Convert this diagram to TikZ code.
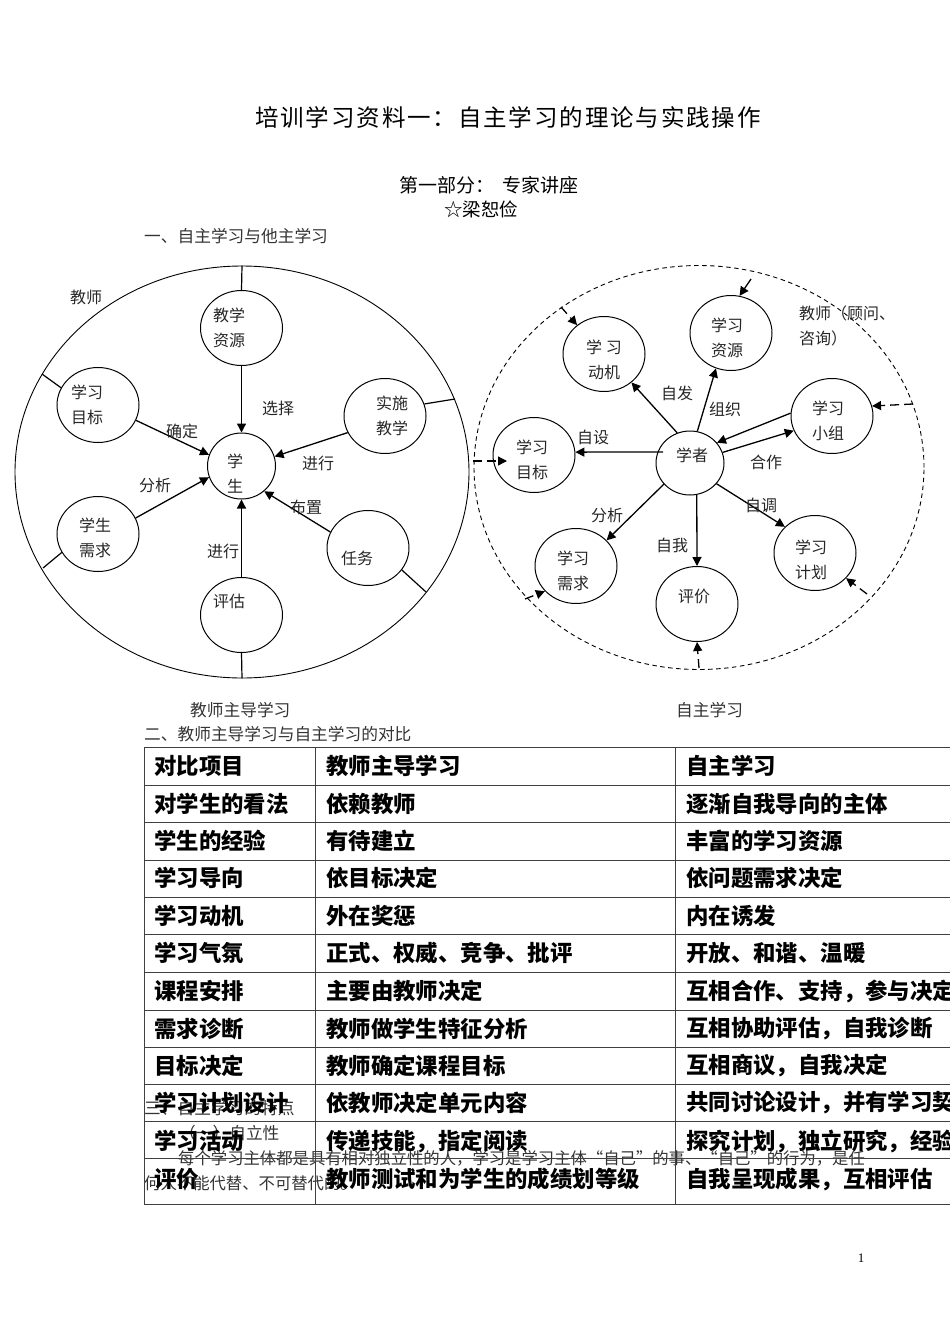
\documentclass[tikz,border=0pt]{standalone}
\usepackage{fontspec}
\setmainfont{Noto Sans CJK SC}
\newfontfamily\titlefont[LetterSpace=8]{Noto Sans CJK SC}
\newfontfamily\numfont{Liberation Serif}
\usetikzlibrary{arrows.meta,shapes.geometric}
\tikzset{
  bub/.style={draw,ellipse,line width=1pt,minimum width=82pt,minimum height=75pt,inner sep=0pt},
  txt/.style={inner sep=0pt,align=center,text=black!85,font=\fontsize{16}{25}\selectfont},
  small/.style={inner sep=0pt,anchor=west,text=black!80,font=\fontsize{16.7}{20}\selectfont},
  para/.style={small,font=\fontsize{16.35}{20}\selectfont},
  head/.style={inner sep=0pt,anchor=west,font=\fontsize{22.4}{26}\selectfont\bfseries},
  arr/.style={line width=1.3pt,-{Triangle[length=9pt,width=9pt]}},
  dasharr/.style={arr,dash pattern=on 9pt off 5pt},
  spoke/.style={line width=1.2pt},
  grid/.style={line width=0.9pt,black!75}
}
\begin{document}
\begin{tikzpicture}[x=1pt,y=-1pt]
  \useasboundingbox (0,0) rectangle (950,1344);
  \clip (0,0) rectangle (950,1344);

  % headings
  \node[inner sep=0pt,font=\titlefont\fontsize{23.5}{28}\selectfont] (title) at (508,117) {培训学习资料一：自主学习的理论与实践操作};
  \node[inner sep=0pt,font=\fontsize{19}{22}\selectfont] (part) at (489,185) {第一部分：\ \ 专家讲座};
  \node[inner sep=0pt,font=\fontsize{18.5}{22}\selectfont] (name) at (481,209) {☆梁恕俭};
  \node[small] (sec1) at (144,236) {一、自主学习与他主学习};
  \node[small] (capa) at (190,710) {教师主导学习};
  \node[small] (capb) at (676,710) {自主学习};
  \node[small] (sec2) at (144,734) {二、教师主导学习与自主学习的对比};

  % left diagram
  \node[draw,ellipse,line width=0.9pt,minimum width=454pt,minimum height=412pt,inner sep=0pt] (outerl) at (242,472) {};
  \node[bub] (ziyuan) at (241.5,328) {};
  \node[bub] (mubiao) at (98,405) {};
  \node[bub] (shishi) at (385,416) {};
  \node[bub] (xuqiu) at (98,534) {};
  \node[bub] (renwu) at (368,548) {};
  \node[bub] (pinggu) at (241.5,615) {};
  \node[bub,minimum width=68pt,minimum height=66pt] (xs) at (241.5,466) {};
  \coordinate (tmubiao) at (42,374);
  \coordinate (tshishi) at (455,399);
  \coordinate (txuqiu) at (43,568);
  \coordinate (trenwu) at (426,592);
  \draw[spoke] (outerl.north) -- (ziyuan.north);
  \draw[spoke] (outerl.south) -- (pinggu.south);
  \draw[spoke] (tmubiao) -- (mubiao.155);
  \draw[spoke] (tshishi) -- (shishi.17);
  \draw[spoke] (txuqiu) -- (xuqiu.207);
  \draw[spoke] (trenwu) -- (renwu.-33);
  \draw[arr] (ziyuan.south) -- (xs.north);
  \draw[arr] (mubiao.-22) -- (xs.161);
  \draw[arr] (shishi.204) -- (xs.16);
  \draw[arr] (xuqiu.23) -- (xs.199);
  \draw[arr] (renwu.157) -- (xs.-48);
  \draw[arr] (pinggu.north) -- (xs.south);
  \node[txt] (tj) at (86,297) {教师};
  \node[txt] (t1) at (229,328) {教学\\资源};
  \node[txt] (t2) at (87,405) {学习\\目标};
  \node[txt] (t3) at (392,416) {实施\\教学};
  \node[txt] (t4) at (95,538) {学生\\需求};
  \node[txt] (t5) at (235,474) {学\\生};
  \node[txt] (t6) at (357,558) {任务};
  \node[txt] (t7) at (229,601) {评估};
  \node[txt] (l1) at (278,408) {选择};
  \node[txt] (l2) at (182,431) {确定};
  \node[txt] (l3) at (318,463) {进行};
  \node[txt] (l4) at (155,485) {分析};
  \node[txt] (l5) at (306,507) {布置};
  \node[txt] (l6) at (223,551) {进行};

  % right diagram
  \node[draw,ellipse,dash pattern=on 4.5pt off 3.5pt,line width=0.9pt,minimum width=450pt,minimum height=404pt,inner sep=0pt] (outerr) at (699,467.5) {};
  \node[bub,minimum width=68pt,minimum height=64pt] (xz) at (690,463) {};
  \node[bub] (dongji) at (604,354) {};
  \node[bub] (zy) at (731,333) {};
  \node[bub] (xiaozu) at (832,416) {};
  \node[bub] (mb) at (534,455) {};
  \node[bub] (xq) at (576,566) {};
  \node[bub] (pj) at (697,604) {};
  \node[bub] (jh) at (815,553) {};
  \coordinate (xzw) at (663,452);
  \draw[arr] (xz.113) -- (dongji.-46);
  \draw[arr] (xz.77) -- (zy.-113);
  \draw[arr] (xiaozu.176) -- (xz.37);
  \draw[arr] (xz.18) -- (xiaozu.201);
  \draw[arr] (xzw) -- (mb.4);
  \draw[arr] (xz.-141) -- (xq.40);
  \draw[arr] (xz.-78) -- (pj.north);
  \draw[arr] (xz.-38) -- (jh.139);
  % teacher arrows
  \coordinate (dtop) at (751,279);
  \coordinate (dtl) at (561,307);
  \coordinate (dr) at (913,404);
  \coordinate (dl) at (473,461);
  \coordinate (dlend) at (507,461);
  \coordinate (dbl) at (525,599);
  \coordinate (db) at (699,668);
  \coordinate (dbr) at (867,594);
  \draw[arr] (dtop) -- (zy.77);
  \draw[dasharr] (dtl) -- (dongji.133);
  \draw[dasharr] (dr) -- (xiaozu.14);
  \draw[dasharr] (dl) -- (dlend);
  \draw[dasharr] (dbl) -- (xq.219);
  \draw[dasharr] (db) -- (pj.south);
  \draw[dasharr] (dbr) -- (jh.-39);
  \node[txt] (r1) at (604,360) {学\ 习\\动机};
  \node[txt] (r2) at (727,338) {学习\\资源};
  \node[txt,align=left,anchor=west] (r3) at (799,326) {教师（顾问、\\咨询）};
  \node[txt] (r4) at (828,421) {学习\\小组};
  \node[txt] (r5) at (532,460) {学习\\目标};
  \node[txt] (r6) at (692,455) {学者};
  \node[txt] (r7) at (573,571) {学习\\需求};
  \node[txt] (r8) at (694,596) {评价};
  \node[txt] (r9) at (811,560) {学习\\计划};
  \node[txt] (m1) at (677,393) {自发};
  \node[txt] (m2) at (725,409) {组织};
  \node[txt] (m3) at (766,462) {合作};
  \node[txt] (m4) at (761,505) {自调};
  \node[txt] (m5) at (672,545) {自我};
  \node[txt] (m6) at (607,515) {分析};
  \node[txt] (m7) at (593,437) {自设};

  % text under the table
  \node[small] (sec3) at (144,1108) {三、自主学习的特点};
  \node[small] (sub1) at (179,1133) {（一）自立性};
  \node[para] (para1) at (178,1158) {每个学习主体都是具有相对独立性的人，学习是学习主体“自己”的事、“自己”的行为，是任};
  \node[para] (para2) at (144,1183) {何人不能代替、不可替代的。};

  % table
  \foreach \y in {747,785,822,860,897,934,972,1010,1047,1084,1121,1158,1204}
    \draw[grid] (144,\y) -- (950,\y);
  \foreach \x in {144,315,675}
    \draw[grid] (\x,747) -- (\x,1204);
  \foreach \i/\y/\a/\b/\c in {
    1/766/对比项目/教师主导学习/自主学习,
    2/804/对学生的看法/依赖教师/逐渐自我导向的主体,
    3/841/学生的经验/有待建立/丰富的学习资源,
    4/878/学习导向/依目标决定/依问题需求决定,
    5/916/学习动机/外在奖惩/内在诱发,
    6/953/学习气氛/正式、权威、竞争、批评/开放、和谐、温暖,
    7/991/课程安排/主要由教师决定/互相合作、支持，参与决定,
    8/1029/需求诊断/教师做学生特征分析/互相协助评估，自我诊断,
    9/1066/目标决定/教师确定课程目标/互相商议，自我决定,
    10/1103/学习计划设计/依教师决定单元内容/共同讨论设计，并有学习契约,
    11/1141/学习活动/传递技能，指定阅读/探究计划，独立研究，经验分享,
    12/1179/评价/教师测试和为学生的成绩划等级/自我呈现成果，互相评估}
  {
    \node[head] (a\i) at (154,\y) {\a};
    \node[head] (b\i) at (326,\y) {\b};
    \node[head] (c\i) at (686,\y) {\c};
  }

  \node[inner sep=0pt,font=\numfont\fontsize{13}{15}\selectfont] (pagenum) at (861,1258) {1};
\end{tikzpicture}
\end{document}
